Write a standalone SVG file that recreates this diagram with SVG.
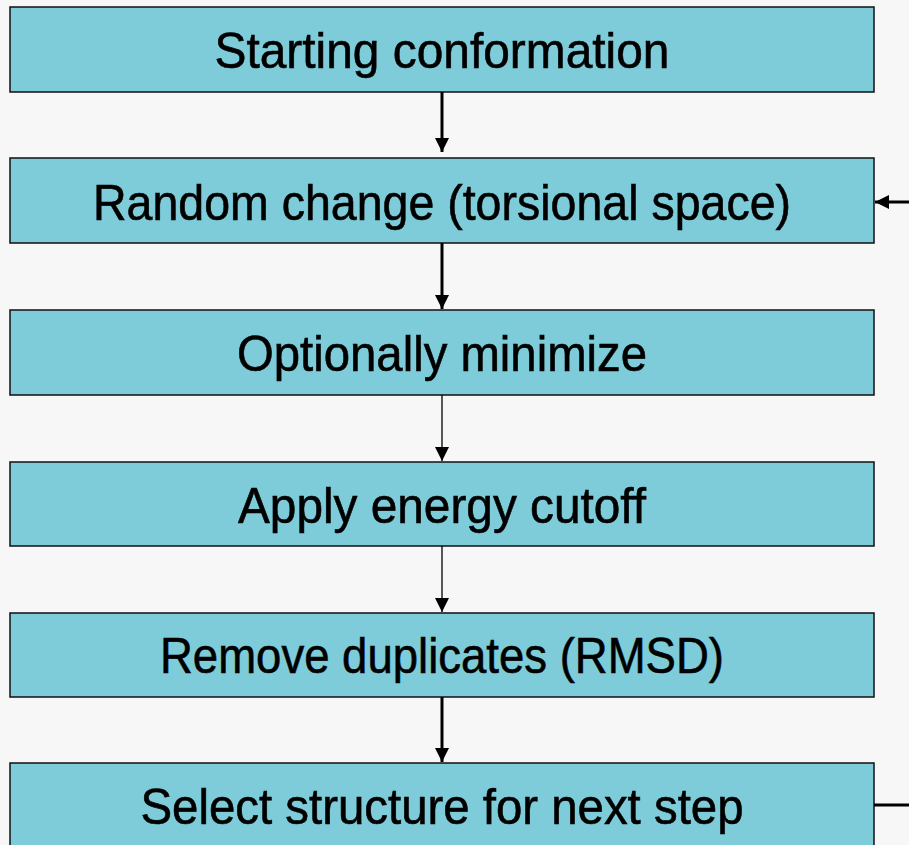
<svg xmlns="http://www.w3.org/2000/svg" width="909" height="845" viewBox="0 0 909 845">
<defs>
<style>
.box{fill:#7ECCD9;stroke:#111;stroke-width:1.5}
.lbl{font-family:"Liberation Sans Narrow","Arial Narrow","Liberation Sans",Arial,sans-serif;font-size:50px;fill:#000;stroke:#000;stroke-width:0.6;text-anchor:middle}
.thick{stroke:#000;stroke-width:3;fill:none}
.thin{stroke:#000;stroke-width:1.3;fill:none}
</style>
<marker id="ahT" viewBox="0 0 14 14" refX="14" refY="7" markerWidth="14" markerHeight="14" markerUnits="userSpaceOnUse" orient="auto"><path d="M0,0 L14,7 L0,14 Z" fill="#000"/></marker>
</defs>
<rect width="909" height="845" fill="#F7F7F7"/>
<g id="n1"><rect class="box" x="10" y="7" width="864" height="85"/><text class="lbl" x="442" y="68" textLength="455" lengthAdjust="spacingAndGlyphs">Starting conformation</text></g>
<g id="n2"><rect class="box" x="10" y="158" width="864" height="85"/><text class="lbl" x="442" y="220" textLength="698" lengthAdjust="spacingAndGlyphs">Random change (torsional space)</text></g>
<g id="n3"><rect class="box" x="10" y="310" width="864" height="85"/><text class="lbl" x="442" y="371" textLength="410" lengthAdjust="spacingAndGlyphs">Optionally minimize</text></g>
<g id="n4"><rect class="box" x="10" y="462" width="864" height="84"/><text class="lbl" x="442" y="523" textLength="408" lengthAdjust="spacingAndGlyphs">Apply energy cutoff</text></g>
<g id="n5"><rect class="box" x="10" y="613" width="864" height="84"/><text class="lbl" x="442" y="673" textLength="564" lengthAdjust="spacingAndGlyphs">Remove duplicates (RMSD)</text></g>
<g id="n6"><rect class="box" x="10" y="763" width="864" height="100"/><text class="lbl" x="442" y="824" textLength="603" lengthAdjust="spacingAndGlyphs">Select structure for next step</text></g>
<g id="connectors">
<line class="thick" x1="442" y1="92" x2="442" y2="152" marker-end="url(#ahT)"/>
<line class="thick" x1="442" y1="243" x2="442" y2="309" marker-end="url(#ahT)"/>
<line class="thin" x1="442" y1="395" x2="442" y2="461" marker-end="url(#ahT)"/>
<line class="thin" x1="442" y1="546" x2="442" y2="612" marker-end="url(#ahT)"/>
<line class="thick" x1="442" y1="697" x2="442" y2="762" marker-end="url(#ahT)"/>
<line class="thick" x1="909" y1="202" x2="875" y2="202" marker-end="url(#ahT)"/>
<line class="thick" x1="874" y1="805" x2="909" y2="805"/>
</g>
</svg>
